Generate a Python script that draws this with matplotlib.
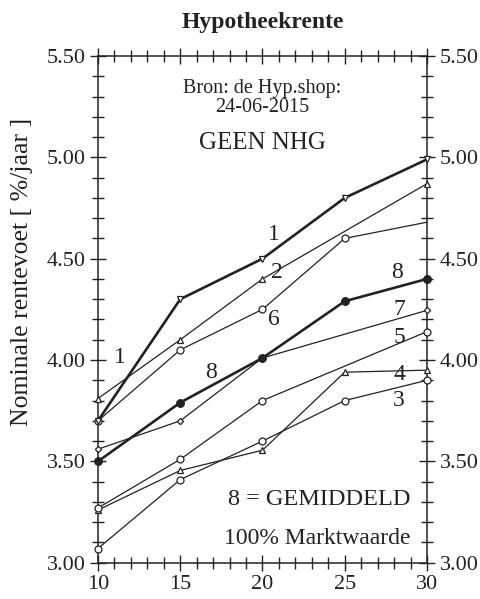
import numpy as np
import matplotlib
matplotlib.use("Agg")
import matplotlib.pyplot as plt
from matplotlib.ticker import MultipleLocator, FormatStrFormatter

plt.rcParams['font.family'] = ['Liberation Serif', 'DejaVu Serif']

# ---- data ----
years = [10, 15, 20, 25, 30]
s1 = [3.70, 4.30, 4.50, 4.80, 4.99]
s2 = [3.81, 4.10, 4.40, None, 4.87]
s3 = [3.07, 3.41, 3.60, 3.80, 3.90]
s4 = [3.26, 3.455, 3.555, 3.94, 3.95]
s5 = [3.27, 3.51, 3.80, None, 4.14]
s6 = [3.70, 4.05, 4.25, 4.60, 4.68]
s7 = [3.56, 3.70, 4.01, None, 4.245]
s8 = [3.50, 3.79, 4.01, 4.29, 4.40]

labels_txt = ['1', '1', '2', '6', '8', '8', '7', '5', '4', '3']
labels_x = [11.3, 20.7, 20.9, 20.7, 16.9, 28.2, 28.3, 28.3, 28.3, 28.3]
labels_y = [4.01, 4.62, 4.43, 4.20, 3.94, 4.43, 4.25, 4.11, 3.93, 3.80]

fig = plt.figure(figsize=(4.81, 5.99), dpi=100)
ax = fig.add_axes([0.2037, 0.0606, 0.684, 0.8459])

def xy(vals):
    xs = [x for x, v in zip(years, vals) if v is not None]
    ys = [v for v in vals if v is not None]
    return xs, ys

thin = 0.9
thick = 1.9
c = '#222222'

styles = [
    (s3, 'o', 5, 'white', thin, None),
    (s4, '^', 4.5, 'white', thin, None),
    (s5, 'o', 5, 'white', thin, None),
    (s7, 'D', 3.2, 'white', thin, None),
    (s6, 'o', 5, 'white', thin, [0, 1, 2, 3]),
    (s2, '^', 4.5, 'white', thin, None),
    (s8, 'o', 5.5, c, thick, None),
    (s1, 'v', 5, 'white', thick, None),
]
for vals, m, ms, fc, lw, me in styles:
    xs, ys = xy(vals)
    ax.plot(xs, ys, color=c, lw=lw, marker=m, ms=ms, mfc=fc, mec=c,
            mew=0.9, markevery=me, clip_on=False, zorder=3)

for t, x, y in zip(labels_txt, labels_x, labels_y):
    ax.text(x, y, t, fontsize=17, ha='center', va='center', color=c)

ax.set_xlim(10, 30)
ax.set_ylim(3.0, 5.5)
ax.xaxis.set_major_locator(MultipleLocator(5))
ax.xaxis.set_minor_locator(MultipleLocator(1))
ax.yaxis.set_major_locator(MultipleLocator(0.5))
ax.yaxis.set_minor_locator(MultipleLocator(0.1))
ax.yaxis.set_major_formatter(FormatStrFormatter('%.2f'))
ax.tick_params(which='both', direction='inout', top=True, right=True,
               labelright=True, labelsize=16, colors=c, width=1.0)
ax.tick_params(which='major', length=12, pad=3)
ax.tick_params(which='minor', length=8)
ax.tick_params(axis='x', which='major', pad=2.5)
for sp in ax.spines.values():
    sp.set_linewidth(1.1)
    sp.set_color(c)

fig.text(0.046, 0.546, 'Nominale rentevoet [ %/jaar ]', fontsize=18.5,
         rotation=90, ha='center', va='center', color=c)

ax.text(20, 5.34, 'Bron: de Hyp.shop:', fontsize=14.5, ha='center', va='center', color=c)
ax.text(20, 5.245, '24-06-2015', fontsize=14.5, ha='center', va='center', color=c)
ax.text(20, 5.07, 'GEEN NHG', fontsize=18, ha='center', va='center', color=c)
ax.text(29.0, 3.31, '8 = GEMIDDELD', fontsize=17.5, ha='right', va='center', color=c)
ax.text(29.0, 3.12, '100% Marktwaarde', fontsize=17, ha='right', va='center', color=c)

fig.text(0.547, 0.963, 'Hypotheekrente', fontsize=17, fontweight='bold',
         ha='center', va='center', color=c)

fig.savefig('out.png', dpi=100)
